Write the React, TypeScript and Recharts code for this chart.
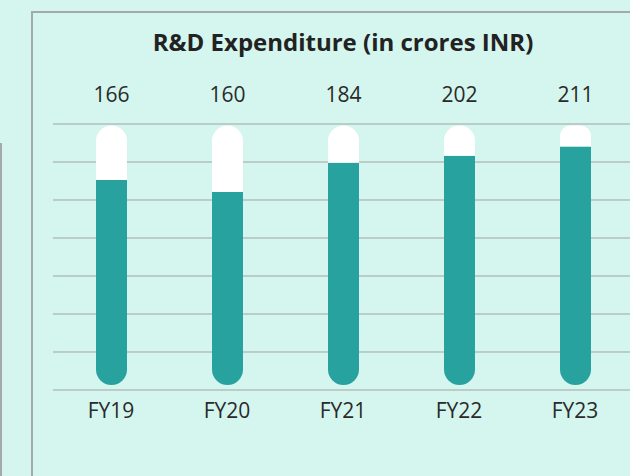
import React from 'react';
import { BarChart, Bar, XAxis, YAxis, CartesianGrid, LabelList } from 'recharts';

const categories = ['FY19', 'FY20', 'FY21', 'FY22', 'FY23'];
const expenditure = [166, 160, 184, 202, 211];
// fill level of each capsule, read on the 0-140 grid scale
const fillLevels = [110.5, 104.2, 119.6, 123.3, 128.1];
const trackBase = 2.6;
const trackTop = 139.2;
const yTicks = [0, 20, 40, 60, 80, 100, 120, 140];

const data = categories.map((name, i) => ({
  name,
  label: expenditure[i],
  base: trackBase,
  level: fillLevels[i] - trackBase,
  rest: trackTop - fillLevels[i],
}));

const FONT = '"Open Sans", "Noto Sans", sans-serif';

export default function App() {
  return (
    <div
      style={{
        position: 'absolute',
        left: 0,
        top: 0,
        width: 630,
        height: 476,
        overflow: 'hidden',
        background: '#d4f6ee',
        fontFamily: FONT,
      }}
    >
      <div
        style={{
          position: 'absolute',
          left: -20,
          top: 143,
          width: 22,
          height: 400,
          boxSizing: 'border-box',
          border: '2px solid #a3aaa8',
        }}
      />
      <div
        style={{
          position: 'absolute',
          left: 31,
          top: 11,
          width: 700,
          height: 600,
          boxSizing: 'border-box',
          border: '2px solid #a3aaa8',
        }}
      />
      <div
        style={{
          position: 'absolute',
          left: 53,
          top: 30,
          width: 580,
          textAlign: 'center',
          fontSize: 24,
          lineHeight: '24px',
          fontWeight: 700,
          color: '#222',
        }}
      >
        R&amp;D Expenditure (in crores INR)
      </div>
      <div style={{ position: 'absolute', left: 0, top: 0 }}>
        <BarChart
          width={700}
          height={476}
          data={data}
          margin={{ top: 124, right: 67, bottom: 46, left: 53 }}
        >
          <CartesianGrid vertical={false} stroke="#a0a3a2" strokeWidth={1} />
          <YAxis hide domain={[0, 140]} ticks={yTicks} type="number" />
          <XAxis
            dataKey="name"
            height={40}
            axisLine={false}
            tickLine={false}
            tickSize={6}
            tickMargin={7}
            tick={{ fill: '#2a2a2a', fontSize: 21, fontFamily: FONT }}
          />
          <Bar dataKey="base" stackId="a" barSize={31} fill="transparent" isAnimationActive={false} />
          <Bar
            dataKey="level"
            stackId="a"
            barSize={31}
            fill="#27a29f"
            radius={[0, 0, 15.5, 15.5]}
            isAnimationActive={false}
          />
          <Bar
            dataKey="rest"
            stackId="a"
            barSize={31}
            fill="#ffffff"
            radius={[15.5, 15.5, 0, 0]}
            isAnimationActive={false}
          >
            <LabelList
              dataKey="label"
              position="top"
              offset={24}
              fill="#2a2a2a"
              fontSize={21}
              fontFamily={FONT}
            />
          </Bar>
        </BarChart>
      </div>
    </div>
  );
}
